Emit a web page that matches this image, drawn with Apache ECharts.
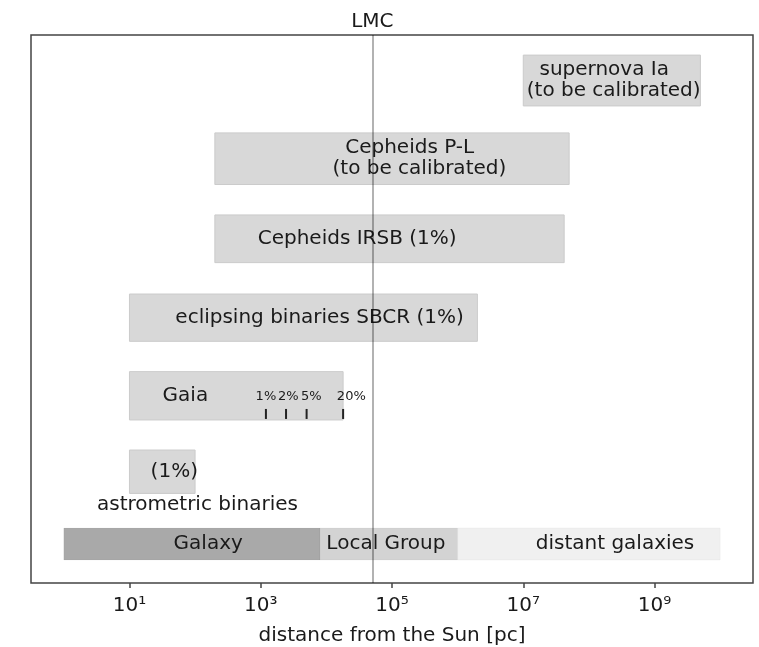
<!DOCTYPE html>
<html><head><meta charset="utf-8">
<script src="https://cdn.jsdelivr.net/npm/echarts@6/dist/echarts.min.js"></script>
<style>html,body{margin:0;padding:0;background:#fff}#c{width:759px;height:647px}</style>
</head><body><div id="c"></div>
<script>
// ---- data (distances in parsec) ----
const methods = ['supernova Ia', 'Cepheids P-L', 'Cepheids IRSB', 'eclipsing binaries SBCR', 'Gaia', 'astrometric binaries'];
const methodStart = [1e7, 200, 200, 10, 10, 10];
const methodEnd = [5e9, 5e7, 4.2e7, 2e6, 1.8e4, 100];
const methodText = ['  supernova Ia\n(to be calibrated)', '  Cepheids P-L\n(to be calibrated)', 'Cepheids IRSB (1%)', 'eclipsing binaries SBCR (1%)', 'Gaia', '(1%)'];
const methodTextAt = [1.13e7, 1.24e4, 900, 50, 32, 21];
const captionText = 'astrometric binaries';
const captionAt = 3.2;

const regions = ['Galaxy', 'Local Group', 'distant galaxies'];
const regionStart = [1, 8e3, 1e6];
const regionEnd = [8e3, 1e6, 1e10];
const regionTextAt = [47, 1e4, 1.55e7];

const gaiaPrecision = ['1%', '2%', '5%', '20%'];
const gaiaDistance = [1200, 2430, 5000, 1.8e4];
const gaiaLabelAt = [1200, 2640, 5900, 2.4e4];

const lmcDistance = 5e4;
const xTickValues = [10, 1e3, 1e5, 1e7, 1e9];
const xTickLabels = ['10¹', '10³', '10⁵', '10⁷', '10⁹'];
const xAxisTitle = 'distance from the Sun [pc]';

// ---- layout / style (row positions and heights in y-axis units) ----
const FONT = 'DejaVu Sans';
const TXT = '#1a1a1a';
const lg = Math.log10;
const rowY = [7.0, 6.0, 4.976, 3.967, 2.968, 1.997];
const rowH = [0.65, 0.66, 0.61, 0.605, 0.618, 0.555];
const bandRow = 1.073, bandH = 0.41, captionRow = 1.571;
const gaiaIdx = methods.indexOf('Gaia');
const regionColors = ['#a9a9a9', '#d3d3d3', '#f0f0f0'];

const barData = methods.map((m, i) => [lg(methodStart[i]), lg(methodEnd[i]), rowY[i], rowH[i]]);
const bandData = regions.map((r, i) => [lg(regionStart[i]), lg(regionEnd[i]), bandRow, bandH]);

const textData = [];
methods.forEach((m, i) => textData.push({value: [lg(methodTextAt[i]), rowY[i]], text: methodText[i]}));
textData.push({value: [lg(captionAt), captionRow], text: captionText});
regions.forEach((r, i) => textData.push({value: [lg(regionTextAt[i]), bandRow], text: r}));

const tickData = gaiaPrecision.map((p, i) => ({value: [lg(gaiaDistance[i]), rowY[gaiaIdx] - rowH[gaiaIdx] / 2, lg(gaiaLabelAt[i])], text: p}));

function rectRenderer(colorFn, stroke) {
  return function (params, api) {
    const y = api.value(2);
    const p0 = api.coord([api.value(0), y]);
    const p1 = api.coord([api.value(1), y]);
    const h = api.size([0, api.value(3)])[1];
    return {type: 'rect', shape: {x: p0[0], y: p0[1] - h / 2, width: p1[0] - p0[0], height: h},
      style: {fill: colorFn(params.dataIndex), stroke: stroke, lineWidth: 1}};
  };
}

const chart = echarts.init(document.getElementById('c'), null, {renderer: 'canvas'});
chart.setOption({
  animation: false,
  backgroundColor: '#fff',
  grid: {left: 31, right: 6, top: 35, bottom: 64, show: true, borderColor: '#444', borderWidth: 1.5,
    backgroundColor: '#fff', containLabel: false, outerBoundsMode: 'none'},
  xAxis: {
    type: 'value', min: -0.5, max: 10.5,
    axisLine: {show: false},
    splitLine: {show: false},
    axisTick: {show: true, customValues: xTickValues.map(lg), length: 5, lineStyle: {color: '#444', width: 1.5}},
    axisLabel: {customValues: xTickValues.map(lg), margin: 13, fontFamily: FONT, fontSize: 20, color: TXT,
      formatter: v => xTickLabels[xTickValues.map(lg).findIndex(t => Math.abs(t - v) < 1e-6)] || ''},
    name: xAxisTitle, nameLocation: 'middle', nameGap: 43,
    nameTextStyle: {fontFamily: FONT, fontSize: 20, color: TXT}
  },
  yAxis: {type: 'value', min: 0.574, max: 7.582, show: false},
  series: [
    {type: 'custom', z: 2, data: bandData, renderItem: rectRenderer(i => regionColors[i], 'rgba(0,0,0,0.03)')},
    {type: 'custom', z: 2, data: barData, renderItem: rectRenderer(() => '#d8d8d8', '#cbcbcb')},
    {type: 'custom', z: 3, data: textData,
      renderItem: (params, api) => {
        const p = api.coord([api.value(0), api.value(1)]);
        return {type: 'text', x: p[0], y: p[1],
          style: {text: textData[params.dataIndex].text, fill: TXT, fontFamily: FONT, fontSize: 20,
            lineHeight: 21, align: 'left', verticalAlign: 'middle'}};
      },
      markLine: {silent: true, symbol: ['none', 'none'], z: 5,
        lineStyle: {color: 'rgba(0,0,0,0.3)', width: 2, type: 'solid'},
        label: {show: true, position: 'end', formatter: 'LMC', fontFamily: FONT, fontSize: 20, color: TXT, distance: 3},
        data: [{xAxis: lg(lmcDistance)}]}
    },
    {type: 'custom', z: 4, data: tickData,
      renderItem: (params, api) => {
        const p = api.coord([api.value(0), api.value(1)]);
        const l = api.coord([api.value(2), api.value(1)]);
        return {type: 'group', children: [
          {type: 'line', shape: {x1: p[0], y1: p[1] - 11, x2: p[0], y2: p[1] - 1}, style: {stroke: '#222', lineWidth: 2}},
          {type: 'text', x: l[0], y: p[1] - 23, style: {text: tickData[params.dataIndex].text, fill: TXT,
            fontFamily: FONT, fontSize: 13, align: 'center', verticalAlign: 'middle'}}
        ]};
      }
    }
  ]
});
</script></body></html>
